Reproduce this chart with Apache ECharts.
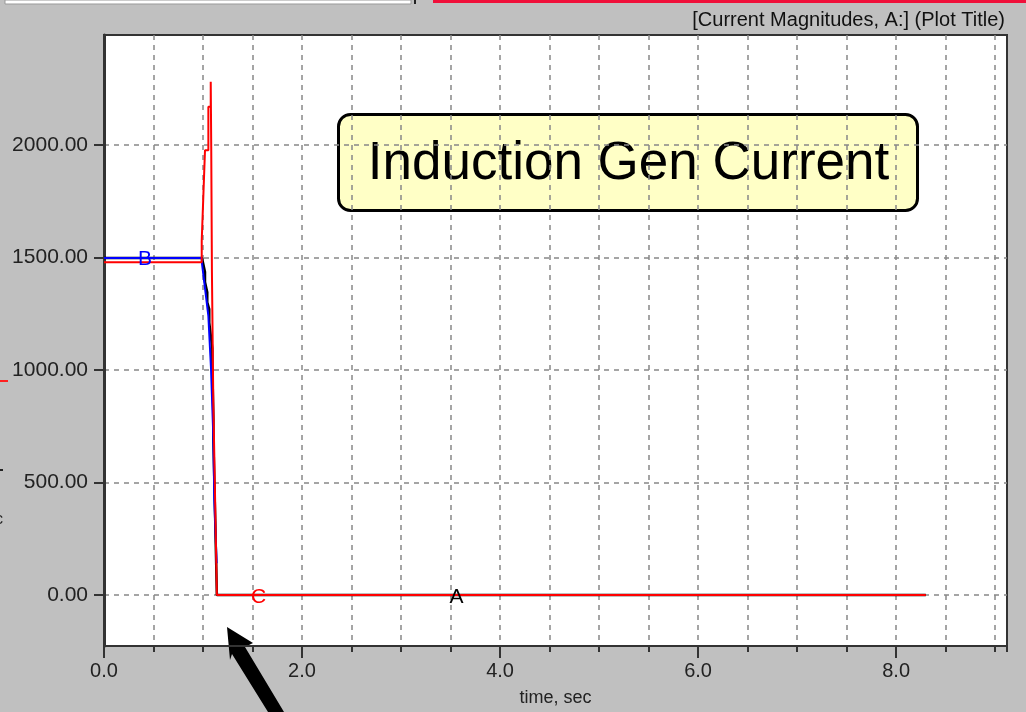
<!DOCTYPE html>
<html>
<head>
<meta charset="utf-8">
<script src="https://cdn.jsdelivr.net/npm/echarts@6/dist/echarts.min.js"></script>
<style>
  html, body { margin: 0; padding: 0; background: #c0c0c0; }
  #main { width: 1026px; height: 712px; }
</style>
</head>
<body>
<div id="main"></div>
<script>
// 电流幅值 (A) vs time, sec
var phaseA = [[0,1497],[0.99,1497],[1.02,1435],[1.02,1390],[1.043,1345],[1.043,1300],[1.063,1270],[1.063,1210],
  [1.094,1095],[1.094,1020],[1.105,780],[1.105,690],[1.14,0],[8.3,0]];
var phaseB = [[0,1497],[0.987,1497],[0.99,1471],[1.013,1389],[1.054,1240],[1.081,1003],[1.104,706],[1.114,423],[1.138,141]];
var phaseC = [[0,1478],[0.987,1478],[0.987,1574],[1.003,1574],[1.003,1768],[1.02,1768],[1.02,1976],[1.054,1976],
  [1.054,2169],[1.078,2169],[1.078,2280],[1.083,2280],[1.083,1990],[1.09,1990],[1.09,1435],[1.104,1435],
  [1.104,856],[1.121,856],[1.14,0],[8.3,0]];
// 曲线上的标记字母
var tagA = [3.56, -12];
var tagB = [0.415, 1490];
var tagC = [1.56, -12];

var xMin = 0, xMax = 9.12, yMin = -227, yMax = 2488;
var FONT = 'Liberation Sans';

function tag(letter, pos, color) {
  return {
    symbol: 'rect',
    symbolSize: 1,
    silent: true,
    itemStyle: { color: 'rgba(0,0,0,0)' },
    data: [{ coord: pos }],
    label: { show: true, position: 'inside', formatter: letter, color: color, fontSize: 21, fontFamily: FONT }
  };
}

var chart = echarts.init(document.getElementById('main'));
chart.setOption({
  backgroundColor: '#c0c0c0',
  animation: false,
  grid: {
    left: 104, right: 19, top: 35, bottom: 64,
    show: true, backgroundColor: '#ffffff', borderColor: '#333333', borderWidth: 2
  },
  xAxis: [{
    type: 'value', min: xMin, max: xMax, interval: 0.5,
    axisLine: { onZero: false, lineStyle: { color: '#333', width: 2 } },
    axisTick: { length: 6, lineStyle: { color: '#333', width: 2 } },
    axisLabel: { show: false },
    splitLine: { show: true, showMinLine: false, showMaxLine: false, lineStyle: { color: '#888', type: [5, 5], width: 1.5 } }
  }, {
    type: 'value', min: xMin, max: xMax, interval: 2, position: 'bottom',
    axisLine: { show: false, onZero: false },
    axisTick: { length: 12, lineStyle: { color: '#333', width: 2 } },
    axisLabel: {
      margin: 15, color: '#222', fontSize: 20, fontFamily: FONT, showMaxLabel: false,
      formatter: function (v) { return v.toFixed(1); }
    },
    splitLine: { show: false },
    name: 'time, sec', nameLocation: 'middle', nameGap: 43,
    nameTextStyle: { color: '#222', fontSize: 18, fontFamily: FONT }
  }],
  yAxis: {
    type: 'value', min: yMin, max: yMax, splitNumber: 5,
    axisLine: { show: true, onZero: false, lineStyle: { color: '#333', width: 3 } },
    axisTick: { show: true, length: 10, lineStyle: { color: '#333', width: 2 } },
    axisLabel: {
      margin: 16, color: '#222', fontSize: 21, fontFamily: FONT, showMinLabel: false, showMaxLabel: false,
      formatter: function (v) { return v.toFixed(2); }
    },
    splitLine: { show: true, showMinLine: false, showMaxLine: false, lineStyle: { color: '#888', type: [5, 5], width: 1.5 } }
  },
  series: [{
    name: 'A', type: 'line', data: phaseA, showSymbol: false,
    lineStyle: { color: '#000000', width: 2.5 }, markPoint: tag('A', tagA, '#000000')
  }, {
    name: 'B', type: 'line', data: phaseB, showSymbol: false,
    lineStyle: { color: '#0000ff', width: 2 }, markPoint: tag('B', tagB, '#0000ff')
  }, {
    name: 'C', type: 'line', data: phaseC, showSymbol: false,
    lineStyle: { color: '#ff0000', width: 2 }, markPoint: tag('C', tagC, '#ff0000')
  }],
  graphic: [
    // 顶部条
    { type: 'rect', shape: { x: 5, y: 0, width: 406, height: 4 }, style: { fill: '#ffffff', stroke: '#999', lineWidth: 1 } },
    { type: 'rect', shape: { x: 414, y: 0, width: 2, height: 4 }, style: { fill: '#222' } },
    { type: 'rect', shape: { x: 433, y: 0, width: 593, height: 3 }, style: { fill: '#f0103a' } },
    // 左侧残留
    { type: 'rect', shape: { x: 0, y: 380, width: 8, height: 2 }, style: { fill: '#ff2020' } },
    { type: 'rect', shape: { x: 0, y: 469, width: 3, height: 2 }, style: { fill: '#222' } },
    { type: 'text', left: -5, top: 512, style: { text: 'c', fontSize: 16, fontFamily: FONT, fill: '#222' } },
    // 标题
    { type: 'text', right: 21, top: 10, style: { text: '[Current Magnitudes, A:] (Plot Title)', fontSize: 20, fontFamily: FONT, fill: '#111' } },
    // 注释框
    {
      type: 'group', left: 337, top: 113, children: [
        { type: 'rect', shape: { x: 0, y: 0, width: 579, height: 96, r: 12 }, style: { fill: '#ffffc6', stroke: '#000', lineWidth: 3 } },
        { type: 'text', x: 290, y: 50, style: { text: 'Induction Gen Current', fontSize: 53, fontFamily: FONT, fill: '#000', align: 'center', verticalAlign: 'middle' } }
      ]
    },
    // 箭头
    {
      type: 'polygon',
      shape: { points: [[227, 627], [253, 643], [245, 647], [284, 712], [268, 712], [232, 654], [230, 660]] },
      style: { fill: '#000' }
    }
  ]
});
</script>
</body>
</html>
